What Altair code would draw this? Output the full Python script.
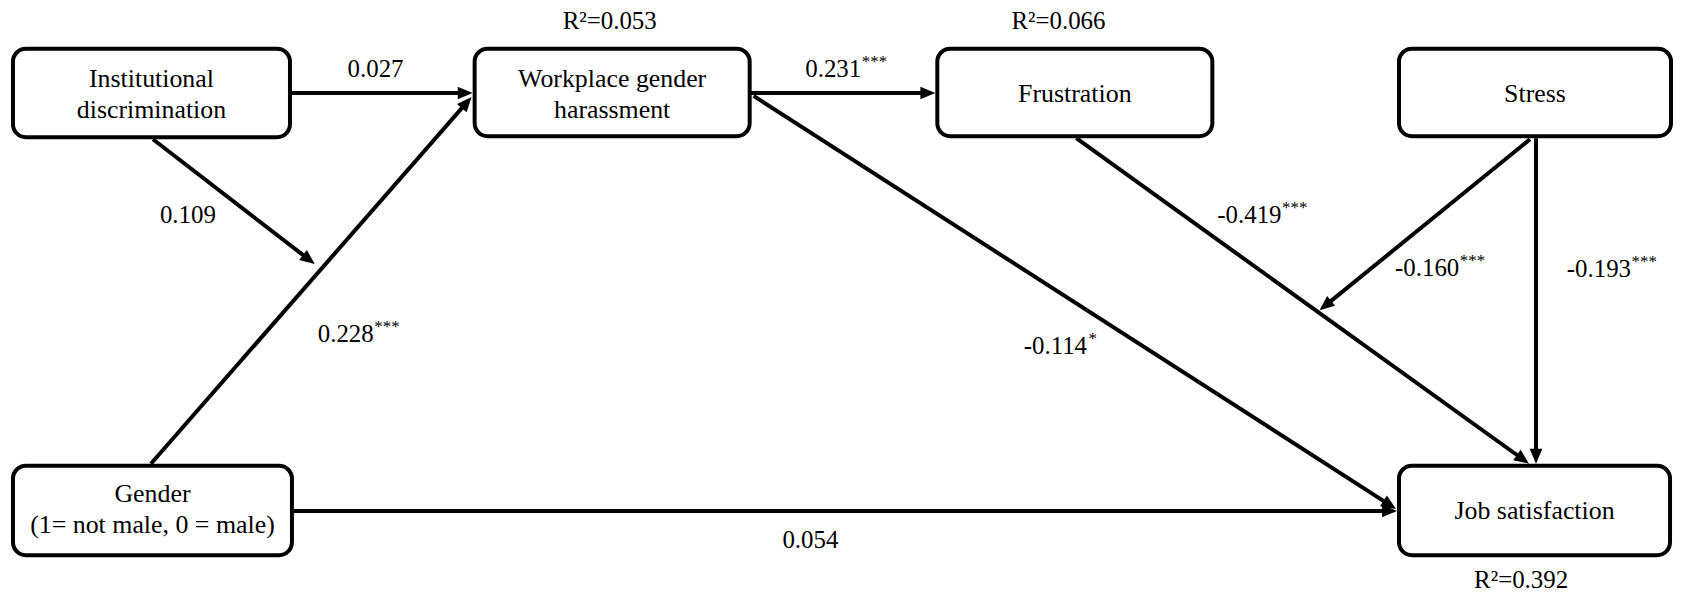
import math
import altair as alt
import pandas as pd

# ---------------- data ----------------
node_ids = ["inst", "wgh", "frus", "stress", "gender", "job"]
node_labels = ["Institutional\ndiscrimination", "Workplace gender\nharassment", "Frustration",
               "Stress", "Gender\n(1= not male, 0 = male)", "Job satisfaction"]

path_ids = ["inst_wgh", "wgh_frus", "inst_mod", "gender_wgh", "wgh_job",
            "frus_job", "stress_mod", "stress_job", "gender_job"]
path_coefs = [0.027, 0.231, 0.109, 0.228, -0.114, -0.419, -0.160, -0.193, 0.054]
path_sig = ["", "***", "", "***", "*", "***", "***", "***", ""]

r2_nodes = ["wgh", "frus", "job"]
r2_values = [0.053, 0.066, 0.392]

# ---------------- layout (diagram coordinates, pixels of the original figure) ----------------
box = {  # x0, x1, y0, y1
    "inst": (9, 288, 46, 136),
    "wgh": (474, 751, 46, 135),
    "frus": (940, 1217, 46, 135),
    "stress": (1405, 1679, 46, 135),
    "gender": (9, 290, 470, 561),
    "job": (1405, 1678, 470, 561),
}
arrow = {  # start -> tip
    "inst_wgh": ((289, 91), (472, 91)),
    "wgh_frus": ((752, 91), (938, 91)),
    "inst_mod": ((150, 138), (313, 265)),
    "gender_wgh": ((148, 468), (471, 95)),
    "wgh_job": ((755, 94), (1402, 514)),
    "frus_job": ((1080, 137), (1536, 468)),
    "stress_mod": ((1537, 138), (1325, 312)),
    "stress_job": ((1543, 137), (1543, 468)),
    "gender_job": ((292, 516), (1403, 516)),
}
label_pos = {  # left x of number, centre y
    "inst_wgh": (346, 67),
    "wgh_frus": (807, 67),
    "inst_mod": (157, 215),
    "gender_wgh": (316, 336),
    "wgh_job": (1027, 348),
    "frus_job": (1222, 215),
    "stress_mod": (1401, 269),
    "stress_job": (1574, 270),
    "gender_job": (784, 546),
}
r2_pos = {"wgh": (610, 18), "frus": (1062, 18), "job": (1528, 586)}
text_y = {"inst": 77, "wgh": 77, "frus": 92, "stress": 92, "gender": 499, "job": 516}

W, H = 1675, 583
XD = [4, 1683]
YD = [6, 596]
sx = W / (XD[1] - XD[0])
sy = H / (YD[1] - YD[0])
FONT = "Liberation Serif"
BOX_FS = 26
FS = 25
SUP_FS = 17
HEAD_LEN = 15


def text_width(s, fs):
    m = {".": 0.25, "-": 0.333}
    return sum(m.get(c, 0.5) for c in s) * fs


# ---------------- tables ----------------
boxes_df = pd.DataFrame([
    {"x": box[n][0], "x2": box[n][1], "y": box[n][2], "y2": box[n][3]} for n in node_ids
])
node_text_df = pd.DataFrame([
    {"x": (box[n][0] + box[n][1]) / 2, "y": text_y[n], "label": lab}
    for n, lab in zip(node_ids, node_labels)
])

rules, heads = [], []
for pid in path_ids:
    (x0, y0), (x1, y1) = arrow[pid]
    dxp, dyp = (x1 - x0) * sx, (y1 - y0) * sy
    L = math.hypot(dxp, dyp)
    ux, uy = dxp / L, dyp / L
    back = HEAD_LEN * 0.6
    rules.append({"x": x0, "y": y0, "x2": x1 - ux * back / sx, "y2": y1 - uy * back / sy})
    ang = math.degrees(math.atan2(dyp, dxp)) % 360
    heads.append({"x": x1, "y": y1, "angle": ang})
rules_df = pd.DataFrame(rules)
heads_df = pd.DataFrame(heads)

num_rows, sup_rows = [], []
for pid, c, s in zip(path_ids, path_coefs, path_sig):
    lx, ly = label_pos[pid]
    t = f"{c:.3f}"
    num_rows.append({"x": lx, "y": ly, "label": t})
    if s:
        sup_rows.append({"x": lx + text_width(t, FS) / sx + 0.5, "y": ly - 7, "label": s})
num_df = pd.DataFrame(num_rows)
sup_df = pd.DataFrame(sup_rows)

r2_df = pd.DataFrame([
    {"x": r2_pos[n][0], "y": r2_pos[n][1], "label": f"R\u00b2={v:.3f}"}
    for n, v in zip(r2_nodes, r2_values)
])

# ---------------- chart ----------------
xs = alt.Scale(domain=XD, nice=False, zero=False)
ys = alt.Scale(domain=YD, reverse=True, nice=False, zero=False)
X = alt.X("x:Q", scale=xs, axis=None)
Y = alt.Y("y:Q", scale=ys, axis=None)

rule_layer = alt.Chart(rules_df).mark_rule(color="black", strokeWidth=4).encode(
    x=X, y=Y, x2="x2:Q", y2="y2:Q")

box_layer = alt.Chart(boxes_df).mark_rect(
    cornerRadius=13, fill="white", stroke="black", strokeWidth=4).encode(
    x=X, y=Y, x2="x2:Q", y2="y2:Q")

head_layer = alt.Chart(heads_df).mark_point(
    shape="M0,0L-2,-0.85L-2,0.85Z", filled=True, color="black", opacity=1,
    size=HEAD_LEN * HEAD_LEN, strokeWidth=0).encode(
    x=X, y=Y, angle=alt.Angle("angle:Q", scale=None))

node_text = alt.Chart(node_text_df).mark_text(
    font=FONT, fontSize=BOX_FS, color="black", align="center", baseline="middle",
    lineBreak="\n", lineHeight=31).encode(x=X, y=Y, text="label:N")

num_text = alt.Chart(num_df).mark_text(
    font=FONT, fontSize=FS, color="black", align="left", baseline="middle").encode(
    x=X, y=Y, text="label:N")

sup_text = alt.Chart(sup_df).mark_text(
    font=FONT, fontSize=SUP_FS, color="black", align="left", baseline="middle").encode(
    x=X, y=Y, text="label:N")

r2_text = alt.Chart(r2_df).mark_text(
    font=FONT, fontSize=FS, color="black", align="center", baseline="middle").encode(
    x=X, y=Y, text="label:N")

chart = alt.layer(rule_layer, box_layer, head_layer, node_text, num_text, sup_text, r2_text).properties(
    width=W, height=H, padding=0, autosize=alt.AutoSizeParams(type="none"),
    background="white"
).configure_view(strokeWidth=0)

chart.save("out.html", embed_options={"renderer": "svg", "actions": False})
